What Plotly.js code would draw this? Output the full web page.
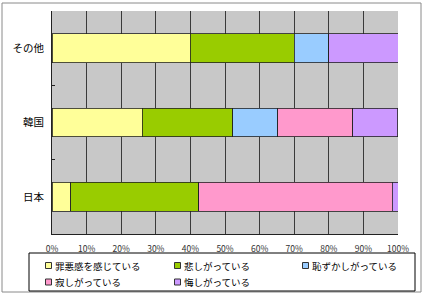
<!DOCTYPE html>
<html><head><meta charset="utf-8">
<script src="https://cdn.plot.ly/plotly-3.0.1.min.js"></script>
<style>html,body{margin:0;padding:0;background:#fff}#chart{width:424px;height:295px}</style>
</head><body><div id="chart"></div>
<script>
const categories = ['その他', '韓国', '日本'];
const seriesNames = ['罪悪感を感じている', '悲しがっている', '恥ずかしがっている', '寂しがっている', '悔しがっている'];
const guilt   = [40, 26.1, 5.4];
const sad     = [30, 26.1, 37.0];
const shame   = [10, 13.0, 0];
const lonely  = [0, 21.7, 55.9];
const regret  = [20, 13.0, 1.7];
const colors = ['#FFFF99', '#99CC00', '#99CCFF', '#FF99CC', '#CC99FF'];
const xTickVals = [0,10,20,30,40,50,60,70,80,90,100];
const xTickText = ['0%','10%','20%','30%','40%','50%','60%','70%','80%','90%','100%'];

const values = [guilt, sad, shame, lonely, regret];
const jp = '"Noto Sans CJK JP", "Noto Sans", sans-serif';
const traces = values.map((v, i) => ({
  type: 'bar', orientation: 'h', name: seriesNames[i],
  y: categories, x: v,
  marker: {color: colors[i], line: {color: '#222', width: 0.8}},
  hoverinfo: 'x+name', showlegend: false
}));

const L = 52, R = 398, T = 11, B = 234, W = 424, H = 295;
const px = x => (x - L) / (R - L);
const py = y => (B - y) / (B - T);

const shapes = [
  {type: 'rect', xref: 'paper', yref: 'paper',
   x0: px(2), x1: px(421), y0: py(292), y1: py(3),
   line: {color: '#8a8a8a', width: 1}, layer: 'below'},
  {type: 'rect', xref: 'paper', yref: 'paper',
   x0: px(29), x1: px(415), y0: py(291), y1: py(253),
   line: {color: '#000', width: 1}, fillcolor: '#fff', layer: 'below'}
];
const annotations = [];
// legend entries: 3 columns, 2 rows
const colX = [45.5, 174.5, 302.5];
const rowY = [265.5, 282];
seriesNames.forEach((name, i) => {
  const c = i % 3, r = Math.floor(i / 3);
  const sx = colX[c], sy = rowY[r];
  shapes.push({type: 'rect', xref: 'paper', yref: 'paper',
    x0: px(sx), x1: px(sx + 6), y0: py(sy + 3), y1: py(sy - 3),
    fillcolor: colors[i], line: {color: '#333', width: 1}});
  annotations.push({xref: 'paper', yref: 'paper', x: px(sx + 7.5), y: py(sy),
    xanchor: 'left', yanchor: 'middle', showarrow: false, text: name,
    font: {family: jp, size: 9.5, color: '#000'}});
});

const layout = {
  width: W, height: H,
  margin: {l: L, r: W - R, t: T, b: H - B, pad: 0},
  barmode: 'stack', bargap: 0.61,
  paper_bgcolor: '#ffffff', plot_bgcolor: '#C8C8C8',
  font: {family: jp, size: 10, color: '#000'},
  showlegend: false,
  xaxis: {
    range: [0, 100], tickvals: xTickVals, ticktext: xTickText,
    showgrid: true, gridcolor: '#3a3a3a', gridwidth: 1, zeroline: false,
    showline: true, linecolor: '#222', linewidth: 1,
    ticks: '', tickfont: {family: jp, size: 8.5, color: '#333'},
    ticklabelstandoff: 7, fixedrange: true
  },
  yaxis: {
    type: 'category', autorange: 'reversed', tickson: 'boundaries',
    showgrid: false, showline: true, linecolor: '#222', linewidth: 1,
    ticks: 'inside', ticklen: 3, tickcolor: '#222',
    tickfont: {family: jp, size: 10.5, color: '#000'},
    ticklabelstandoff: 5, fixedrange: true
  },
  shapes: shapes,
  annotations: annotations
};
Plotly.newPlot('chart', traces, layout, {displayModeBar: false, staticPlot: true});
</script></body></html>
